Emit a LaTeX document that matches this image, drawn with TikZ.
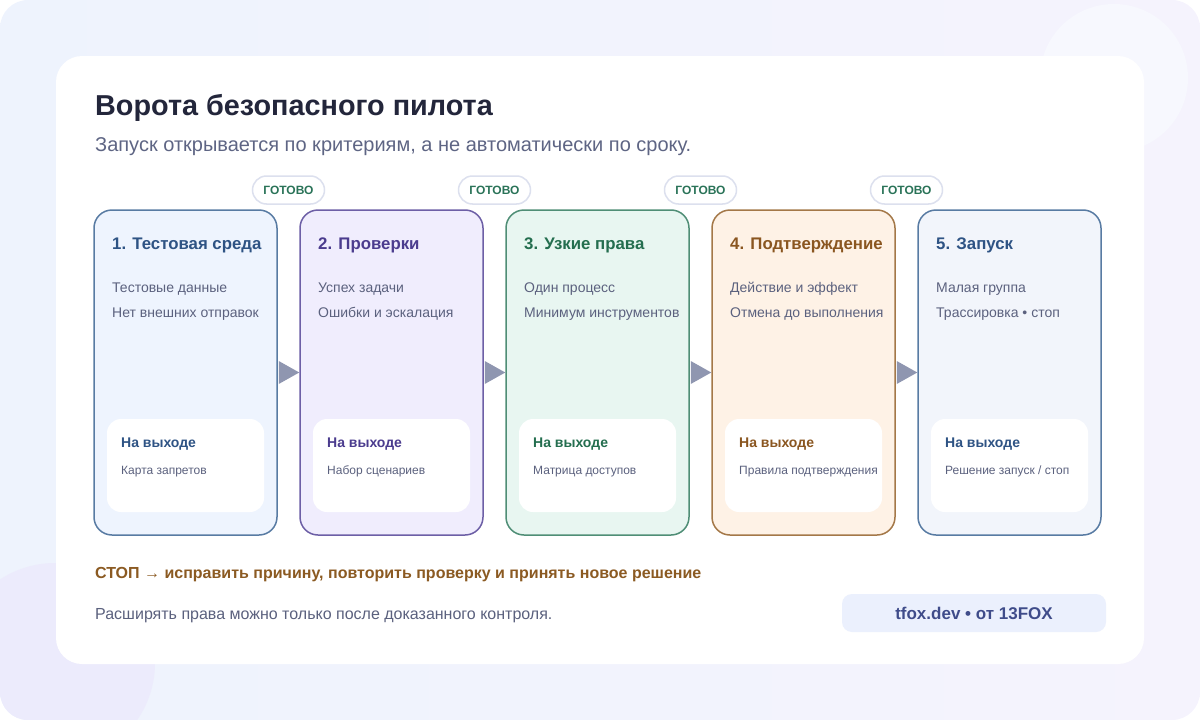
\documentclass[tikz,border=0pt]{standalone}
\usepackage{fontspec}
\setmainfont{Liberation Sans}
\usetikzlibrary{calc}
\definecolor{bgA}{HTML}{EEF3FD}
\definecolor{bgB}{HTML}{F5F3FD}
\definecolor{circA}{HTML}{F7F8FE}
\definecolor{circB}{HTML}{ECEBFC}
\definecolor{titlec}{HTML}{23263B}
\definecolor{subc}{HTML}{5E6584}
\definecolor{bodyc}{HTML}{5B617E}
\definecolor{badgeb}{HTML}{DCE0EE}
\definecolor{badget}{HTML}{2A7358}
\definecolor{stopc}{HTML}{8B5A22}
\definecolor{arrc}{HTML}{8F96B0}
\definecolor{pillf}{HTML}{EBF0FD}
\definecolor{pillt}{HTML}{3F4C8A}
\definecolor{hA}{HTML}{2E5384}\definecolor{dA}{HTML}{587BA3}\definecolor{fA}{HTML}{EEF4FE}
\definecolor{hB}{HTML}{4B3C8E}\definecolor{dB}{HTML}{6D5FA6}\definecolor{fB}{HTML}{F0EDFD}
\definecolor{hC}{HTML}{246E4F}\definecolor{dC}{HTML}{4F8E76}\definecolor{fC}{HTML}{E8F6F1}
\definecolor{hD}{HTML}{8A5620}\definecolor{dD}{HTML}{A47848}\definecolor{fD}{HTML}{FEF2E6}
\definecolor{hE}{HTML}{2E5384}\definecolor{dE}{HTML}{587BA3}\definecolor{fE}{HTML}{F2F5FB}
\tikzset{
  stagebox/.style={rounded corners=18pt, line width=1.5pt, minimum width=183pt, minimum height=325pt, inner sep=0pt},
  outbox/.style={rounded corners=14pt, fill=white, minimum width=157pt, minimum height=93pt, inner sep=0pt},
  txt/.style={anchor=base west, inner sep=0pt},
  headt/.style={txt, font=\fontsize{16.8}{20}\selectfont\bfseries},
  bodyt/.style={txt, text=bodyc, font=\fontsize{14}{17}\selectfont},
  outh/.style={txt, font=\fontsize{14}{17}\selectfont\bfseries},
  outt/.style={txt, text=bodyc, font=\fontsize{12}{14}\selectfont},
  badge/.style={draw=badgeb, line width=1.5pt, fill=white, rounded corners=14pt, minimum width=72pt, minimum height=28pt, inner sep=0pt, text=badget, font=\fontsize{12}{14}\selectfont\bfseries},
  tri/.style={fill=arrc},
}
\begin{document}
\begin{tikzpicture}[x=1pt,y=-1pt]
\useasboundingbox (0,0) rectangle (1200,720);
% background
\begin{scope}
\clip[rounded corners=28pt] (0,0) rectangle (1200,720);
\shade[left color=bgA, right color=bgB] (0,0) rectangle (1200,720);
\fill[circA] (1114,78) circle (74);
\fill[circB] (55,663) circle (100);
\end{scope}
% card
\fill[white, rounded corners=26pt] (56,56) rectangle (1144,664);
% title
\node[txt, text=titlec, font=\fontsize{28.8}{33}\selectfont\bfseries] (title) at (95,115) {Ворота безопасного пилота};
\node[txt, text=subc, font=\fontsize{20}{24}\selectfont] (sub) at (95,151) {Запуск открывается по критериям, а не автоматически по сроку.};
% stages
\foreach \i/\L/\x in {1/A/94,2/B/300,3/C/506,4/D/712,5/E/918}{
  \node[stagebox, draw=d\L, fill=f\L] (b\i) at (\x+91.5,372.5) {};
  \node[outbox] (o\i) at (\x+91.5,465.5) {};
}
\node[headt, text=hA] (h1) at (112,249) {1. Тестовая среда};
\node[bodyt] (t1a) at (112,292) {Тестовые данные};
\node[bodyt] (t1b) at (112,317) {Нет внешних отправок};
\node[outh, text=hA] (oh1) at (121,447) {На выходе};
\node[outt] (ot1) at (121,474) {Карта запретов};

\node[headt, text=hB] (h2) at (318,249) {2. Проверки};
\node[bodyt] (t2a) at (318,292) {Успех задачи};
\node[bodyt] (t2b) at (318,317) {Ошибки и эскалация};
\node[outh, text=hB] (oh2) at (327,447) {На выходе};
\node[outt] (ot2) at (327,474) {Набор сценариев};

\node[headt, text=hC] (h3) at (524,249) {3. Узкие права};
\node[bodyt] (t3a) at (524,292) {Один процесс};
\node[bodyt] (t3b) at (524,317) {Минимум инструментов};
\node[outh, text=hC] (oh3) at (533,447) {На выходе};
\node[outt] (ot3) at (533,474) {Матрица доступов};

\node[headt, text=hD] (h4) at (730,249) {4. Подтверждение};
\node[bodyt] (t4a) at (730,292) {Действие и эффект};
\node[bodyt] (t4b) at (730,317) {Отмена до выполнения};
\node[outh, text=hD] (oh4) at (739,447) {На выходе};
\node[outt] (ot4) at (739,474) {Правила подтверждения};

\node[headt, text=hE] (h5) at (936,249) {5. Запуск};
\node[bodyt] (t5a) at (936,292) {Малая группа};
\node[bodyt] (t5b) at (936,317) {Трассировка • стоп};
\node[outh, text=hE] (oh5) at (945,447) {На выходе};
\node[outt] (ot5) at (945,474) {Решение запуск / стоп};
% arrows and badges
\foreach \a/\b in {1/2,2/3,3/4,4/5}{
  \fill[tri] ($(b\a.east)+(1,-11.5)$) -- (b\b.west) -- ($(b\a.east)+(1,11.5)$) -- cycle;
  \node[badge] (g\a) at ($(b\a.east)!0.5!(b\b.west)+(0,-182.5)$) {ГОТОВО};
}
% bottom
\node[txt, text=stopc, font=\fontsize{16}{19}\selectfont\bfseries] (stop) at (95,578) {СТОП → исправить причину, повторить проверку и принять новое решение};
\node[txt, text=bodyc, font=\fontsize{16}{19}\selectfont] (note) at (95,619) {Расширять права можно только после доказанного контроля.};
\node[fill=pillf, rounded corners=10pt, minimum width=264pt, minimum height=38pt, inner sep=0pt, text=pillt, font=\fontsize{17}{20}\selectfont\bfseries] (pill) at (974,613) {tfox.dev • от 13FOX};
\end{tikzpicture}
\end{document}
